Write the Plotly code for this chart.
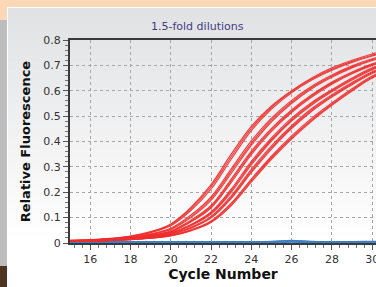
import plotly.graph_objects as go

# ---------------- data ----------------
cycles = [15, 16, 17, 18, 19, 20, 21, 22, 23, 24, 25, 26, 27, 28, 29, 30, 31]

g1a = [0.010,0.013,0.018,0.027,0.045,0.075,0.140,0.230,0.350,0.460,0.540,0.600,0.650,0.690,0.720,0.745,0.765]
g1b = [0.010,0.012,0.017,0.026,0.043,0.072,0.135,0.222,0.340,0.452,0.535,0.597,0.646,0.685,0.716,0.740,0.760]
g1c = [0.009,0.012,0.016,0.025,0.041,0.068,0.128,0.212,0.330,0.443,0.528,0.592,0.642,0.681,0.712,0.737,0.757]
g2a = [0.009,0.011,0.015,0.022,0.036,0.058,0.110,0.182,0.292,0.402,0.492,0.562,0.618,0.662,0.698,0.726,0.748]
g2b = [0.009,0.011,0.015,0.021,0.034,0.055,0.104,0.175,0.283,0.393,0.485,0.556,0.613,0.658,0.694,0.722,0.744]
g2c = [0.008,0.010,0.014,0.020,0.033,0.053,0.100,0.168,0.274,0.385,0.478,0.550,0.608,0.653,0.690,0.719,0.741]
g3a = [0.008,0.010,0.013,0.019,0.030,0.048,0.090,0.148,0.252,0.362,0.452,0.524,0.584,0.634,0.674,0.706,0.730]
g3b = [0.008,0.010,0.013,0.018,0.029,0.046,0.086,0.143,0.245,0.355,0.446,0.519,0.580,0.630,0.670,0.703,0.727]
g3c = [0.008,0.009,0.012,0.018,0.028,0.044,0.083,0.138,0.238,0.348,0.440,0.514,0.575,0.626,0.667,0.700,0.724]
g4a = [0.008,0.009,0.012,0.017,0.026,0.041,0.073,0.122,0.212,0.322,0.414,0.492,0.554,0.604,0.650,0.690,0.716]
g4b = [0.007,0.009,0.012,0.016,0.025,0.039,0.070,0.118,0.206,0.315,0.408,0.486,0.549,0.600,0.646,0.686,0.712]
g4c = [0.007,0.009,0.011,0.016,0.024,0.038,0.068,0.114,0.200,0.308,0.402,0.481,0.544,0.596,0.642,0.683,0.709]
g5a = [0.007,0.009,0.011,0.015,0.023,0.035,0.062,0.105,0.186,0.290,0.383,0.462,0.530,0.584,0.632,0.675,0.702]
g5b = [0.007,0.008,0.011,0.015,0.022,0.034,0.060,0.101,0.180,0.283,0.376,0.456,0.524,0.579,0.628,0.671,0.699]
g5c = [0.007,0.008,0.010,0.014,0.021,0.033,0.058,0.098,0.175,0.277,0.370,0.451,0.519,0.575,0.624,0.668,0.696]
g6a = [0.007,0.008,0.010,0.014,0.020,0.030,0.052,0.087,0.157,0.252,0.342,0.422,0.492,0.552,0.608,0.658,0.690]
g6b = [0.006,0.008,0.010,0.013,0.019,0.029,0.050,0.084,0.152,0.246,0.336,0.416,0.486,0.547,0.603,0.654,0.686]
g6c = [0.006,0.007,0.009,0.013,0.019,0.028,0.048,0.081,0.147,0.240,0.330,0.410,0.481,0.543,0.599,0.650,0.683]

ntc1 = [0.004,0.004,0.004,0.004,0.004,0.004,0.004,0.004,0.004,0.004,0.005,0.009,0.005,0.004,0.004,0.005,0.006]
ntc2 = [0.003,0.003,0.003,0.003,0.003,0.003,0.003,0.003,0.003,0.003,0.004,0.007,0.004,0.003,0.003,0.004,0.005]
ntc3 = [0.002,0.002,0.002,0.002,0.002,0.002,0.002,0.002,0.002,0.002,0.003,0.005,0.003,0.002,0.002,0.003,0.004]

red_series = [g1a, g1b, g1c, g2a, g2b, g2c, g3a, g3b, g3c,
              g4a, g4b, g4c, g5a, g5b, g5c, g6a, g6b, g6c]
blue_series = [ntc1, ntc2, ntc3]

x_ticks = [16, 18, 20, 22, 24, 26, 28, 30]
title_text = "1.5-fold dilutions"
x_title = "Cycle Number"
y_title = "Relative Fluorescence"

# ---------------- layout geometry ----------------
W, H = 376, 287
L, R, T, B = 70, 0, 40, 44
pw, ph = W - L - R, H - T - B


def px_x(x):
    return (x - L) / pw


def px_y(y):
    return (H - B - y) / ph


shapes = []


def rect(x0, y0, x1, y1, color):
    shapes.append(dict(type="rect", xref="paper", yref="paper",
                       x0=px_x(x0), x1=px_x(x1), y0=px_y(y1), y1=px_y(y0),
                       fillcolor=color, line=dict(width=0), layer="below"))


rect(0, 20, 8, 287, "#BDBDBD")
rect(0, 266, 8, 287, "#4E3422")
rect(7, 7, 377, 288, "#FFFFFF")
# vertical gradient of the panel
N = 30
top_c = (225, 226, 228)
bot_c = (255, 255, 255)
y_start, y_end = 8, 245
for i in range(N):
    t = i / (N - 1)
    c = tuple(int(round(top_c[k] + (bot_c[k] - top_c[k]) * t)) for k in range(3))
    ya = y_start + (y_end - y_start) * i / N
    yb = y_start + (y_end - y_start) * (i + 1) / N + 0.5
    rect(8, ya, 377, yb, "rgb(%d,%d,%d)" % c)

fig = go.Figure()

for s in blue_series:
    fig.add_trace(go.Scatter(x=cycles, y=s, mode="lines", line=dict(color="#3B7FC4", width=2, shape="spline"),
                             showlegend=False, hoverinfo="skip"))
for s in red_series:
    fig.add_trace(go.Scatter(x=cycles, y=s, mode="lines",
                             line=dict(color="rgba(240,45,45,0.9)", width=1.2, shape="spline"),
                             showlegend=False, hoverinfo="skip"))

fig.update_layout(
    width=W, height=H,
    margin=dict(l=L, r=R, t=T, b=B, pad=0, autoexpand=False),
    paper_bgcolor="#FCD8B6",
    plot_bgcolor="rgba(0,0,0,0)",
    font=dict(family="DejaVu Sans", size=11, color="#333333"),
    shapes=shapes,
    annotations=[dict(text=title_text, xref="paper", yref="paper",
                      x=px_x(197), y=px_y(27), xanchor="center", yanchor="middle",
                      showarrow=False, font=dict(size=11, color="#3E3E82", family="DejaVu Sans"))],
    xaxis=dict(range=[15, 30.19], tickvals=x_ticks, showgrid=True, gridcolor="#A6A6A6",
               griddash="dot", gridwidth=1, ticks="outside", ticklen=5, tickcolor="#555555",
               showline=True, linecolor="#3A3A3A", linewidth=2, mirror=True, zeroline=False,
               automargin=False, ticklabeloverflow="allow",
               minor=dict(dtick=0.4, tick0=16, ticklen=3, tickcolor="#777777", showgrid=False, ticks="outside"),
               tickfont=dict(size=11, color="#333333"),
               title=dict(text="<b>" + x_title + "</b>", standoff=3,
                          font=dict(size=14, color="#111111", family="DejaVu Sans"))),
    yaxis=dict(range=[0, 0.8], dtick=0.1, tick0=0, showgrid=True, gridcolor="#A6A6A6",
               griddash="dot", gridwidth=1, ticks="outside", ticklen=5, tickcolor="#555555",
               showline=True, linecolor="#3A3A3A", linewidth=2, mirror=True, zeroline=False,
               automargin=False,
               minor=dict(dtick=0.02, ticklen=3, tickcolor="#777777", showgrid=False, ticks="outside"),
               tickfont=dict(size=11, color="#333333"),
               title=dict(text="<b>" + y_title + "</b>", standoff=10,
                          font=dict(size=13, color="#111111", family="DejaVu Sans"))),
)

fig.write_html("out.html", config={"displayModeBar": False},
               post_script="document.body.style.margin='0';document.body.style.overflow='hidden';")
